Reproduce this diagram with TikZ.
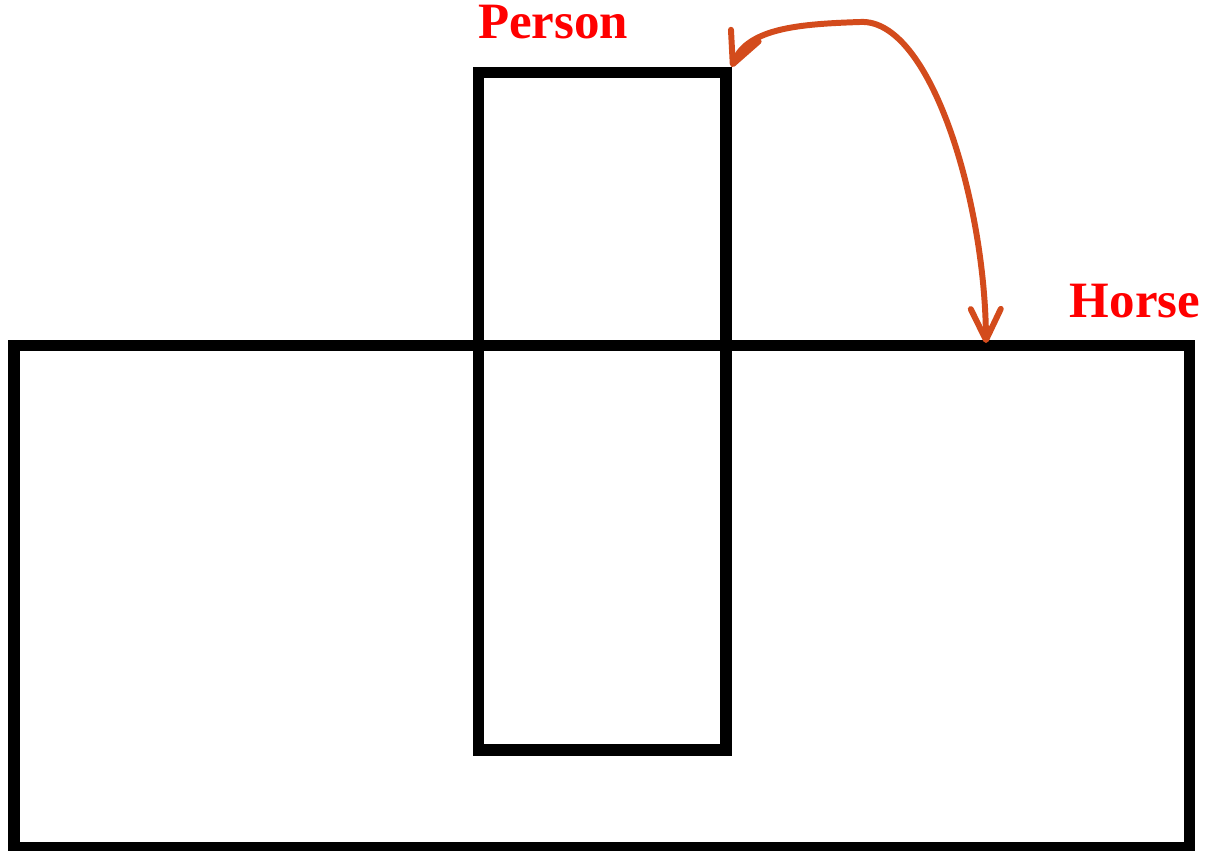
\documentclass[tikz,border=0pt]{standalone}
\usepackage{fontspec}
\setmainfont{Liberation Serif}
\usetikzlibrary{arrows.meta}
\definecolor{arrowred}{RGB}{211,75,28}
\definecolor{labelred}{RGB}{255,0,0}
\tikzset{
  box/.style={draw=black, line width=6.4pt, inner sep=0pt, fill=none},
  lbl/.style={text=labelred, font=\fontsize{29}{34}\selectfont\bfseries, anchor=base, inner sep=0pt},
  barb/.tip={Straight Barb[length=0.62cm, width=0.6cm, line width=3.4pt, round]},
  curvearrow/.style={draw=arrowred, line width=3.4pt, line cap=round, barb-barb}
}
\begin{document}
\begin{tikzpicture}[x=0.02cm,y=-0.02cm]
  \useasboundingbox (0,0) rectangle (1213,851);
  \node[box, minimum width=23.51cm, minimum height=10.05cm] (horse) at (601.75,596.75) {};
  \node[box, minimum width=4.95cm, minimum height=13.55cm] (person) at (602.25,411.25) {};
  \node[lbl] (personlabel) at (553,39) {Person};
  \node[lbl] (horselabel) at (1135,317) {Horse};
  \coordinate (start) at (986,343);
  \coordinate (top) at (860,22);
  \draw[curvearrow] (start) .. controls (985,200) and (930,18) .. (top)
     .. controls (800,24) and (748,28) .. (person.north east);
\end{tikzpicture}
\end{document}
